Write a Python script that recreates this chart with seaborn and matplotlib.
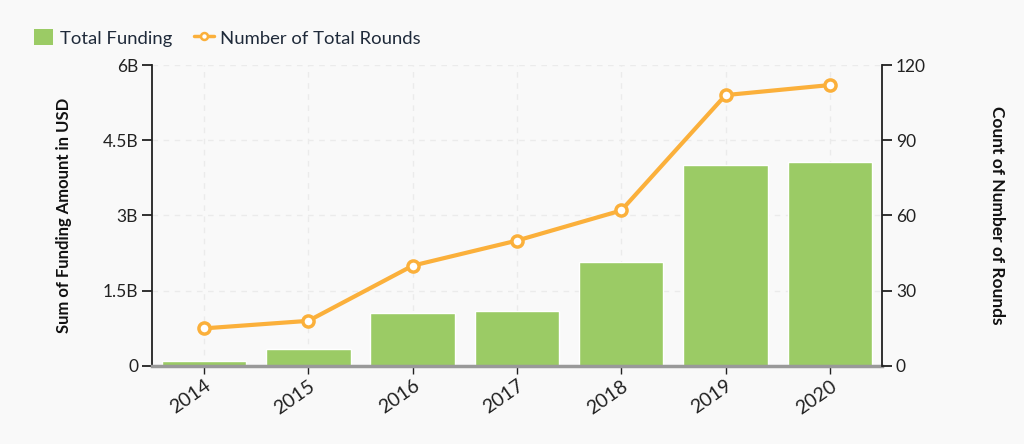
import matplotlib
matplotlib.use("Agg")
import matplotlib.pyplot as plt
import seaborn as sns
import pandas as pd
import numpy as np
from matplotlib.lines import Line2D
from matplotlib.patches import Patch
from matplotlib.ticker import FixedLocator

years = ["2014", "2015", "2016", "2017", "2018", "2019", "2020"]
funding_b = [0.09, 0.34, 1.06, 1.10, 2.07, 4.00, 4.06]
rounds = [15, 18, 40, 50, 62, 108, 112]
left_ticks = [0, 1.5, 3, 4.5, 6]
left_tick_labels = ["0", "1.5B", "3B", "4.5B", "6B"]
right_ticks = [0, 30, 60, 90, 120]

sns.set_theme(style="white")
plt.rcParams['font.family'] = ['Lato', 'DejaVu Sans']

bg = "#f9f9f9"
bar_color = "#9bcb65"
line_color = "#fbb03b"

df = pd.DataFrame({"year": years, "funding": funding_b, "rounds": rounds})

fig = plt.figure(figsize=(10.24, 4.44), dpi=100, facecolor=bg)
ax = fig.add_axes([0.1484, 0.1757, 0.8613 - 0.1484, 0.8536 - 0.1757])
ax.set_facecolor(bg)

sns.barplot(data=df, x="year", y="funding", color=bar_color, width=0.81,
            saturation=1, ax=ax, zorder=2)
ax.set_xlim(-0.5, 6.5)
ax.set_ylim(0, 6)

ax2 = ax.twinx()
sns.lineplot(x=np.arange(len(years)), y=df["rounds"], ax=ax2, color=line_color,
             linewidth=3, marker="o", markersize=8, markerfacecolor="white",
             markeredgecolor=line_color, markeredgewidth=2.5, zorder=5)
ax2.set_ylim(0, 120)
ax2.set_xlim(-0.5, 6.5)

# grid
for x in range(len(years)):
    ax.axvline(x, color="#ebebeb", linestyle=(0, (4, 4)), linewidth=1, zorder=0)
for y in left_ticks[1:]:
    ax.axhline(y, color="#ebebeb", linestyle=(0, (4, 4)), linewidth=1, zorder=0)

ax.yaxis.set_major_locator(FixedLocator(left_ticks))
ax.set_yticklabels(left_tick_labels)
ax2.yaxis.set_major_locator(FixedLocator(right_ticks))
ax2.set_yticklabels([str(v) for v in right_ticks])

for a in (ax, ax2):
    a.spines['top'].set_visible(False)
    a.spines['left'].set_color("#222222")
    a.spines['right'].set_color("#222222")
    a.spines['bottom'].set_color("#999999")
    a.spines['bottom'].set_linewidth(2.5)
    a.spines['left'].set_linewidth(1.3)
    a.spines['right'].set_linewidth(1.3)
ax.spines['right'].set_visible(False)
ax2.spines['left'].set_visible(False)
ax2.spines['bottom'].set_visible(False)

ax.tick_params(axis='y', which='major', direction='out', length=7, width=1.3,
               color="#222222", labelsize=12.5, labelcolor="#222222", pad=3, left=True)
ax2.tick_params(axis='y', which='major', direction='out', length=7, width=1.3,
                color="#222222", labelsize=12.5, labelcolor="#222222", pad=3, right=True)
ax.tick_params(axis='x', direction='out', length=6, width=1, color="#222222",
               labelsize=14, labelcolor="#222222", bottom=True, pad=2)
plt.setp(ax.get_xticklabels(), rotation=35, ha="right", rotation_mode="anchor")

ax.set_xlabel("")
ax.set_ylabel("Sum of Funding Amount in USD", fontsize=12, fontweight="bold",
              color="#111111")
ax2.set_ylabel("Count of Number of Rounds", fontsize=12.5, fontweight="bold",
               color="#111111", rotation=-90, va="center")
ax.yaxis.set_label_coords(-0.11, 0.5)
ax2.yaxis.set_label_coords(1.158, 0.5)

handles = [Patch(facecolor=bar_color, edgecolor="none", label="Total Funding"),
           Line2D([0], [0], color=line_color, linewidth=2.5, marker="o", markersize=5,
                  markerfacecolor="white", markeredgecolor=line_color,
                  markeredgewidth=1.8, label="Number of Total Rounds")]
fig.legend(handles=handles, loc="center left", bbox_to_anchor=(0.017, 0.915),
           ncol=2, frameon=False, fontsize=13.3, handlelength=1.05, handleheight=1.0,
           columnspacing=1.2, handletextpad=0.35, labelcolor="#1f2a3a")

fig.savefig("out.png", dpi=100, facecolor=bg)
